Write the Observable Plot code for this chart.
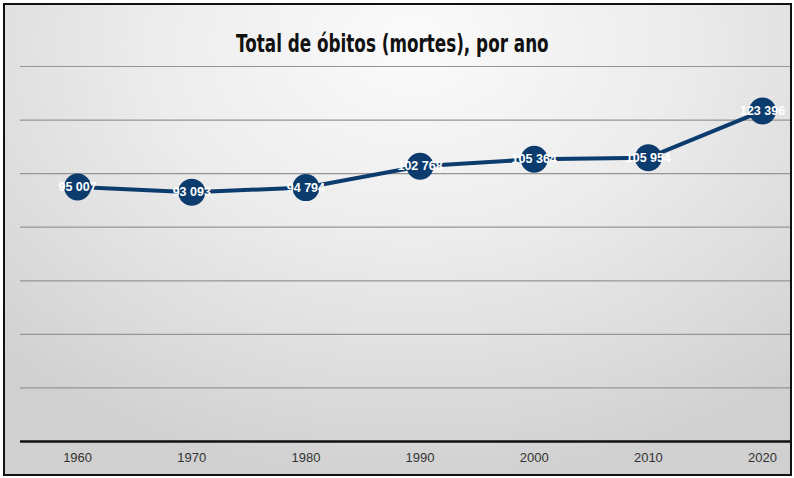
<!DOCTYPE html>
<html>
<head>
<meta charset="utf-8">
<script src="https://cdn.jsdelivr.net/npm/d3@7"></script>
<script src="https://cdn.jsdelivr.net/npm/@observablehq/plot@0.6"></script>
<style>
  html, body { margin: 0; padding: 0; background: #fff; }
  body { width: 794px; height: 478px; position: relative; overflow: hidden; }
  #frame {
    position: absolute; left: 3px; top: 3px; width: 789px; height: 473px;
    box-sizing: border-box; border: 2px solid #111;
    background: radial-gradient(ellipse 75% 95% at 52% 8%, #fbfbfb 0%, #ececec 45%, #d8d8d8 85%, #d0d0d0 100%);
  }
  #title {
    position: absolute; left: -5px; top: 32px; width: 794px; text-align: center;
  }
  #title span {
    display: inline-block; transform: scaleX(0.70); transform-origin: 50% 50%;
    font-family: "DejaVu Sans", sans-serif;
    font-weight: bold; font-size: 24px; line-height: 24px; color: #111;
    white-space: nowrap;
  }
  #chart { position: absolute; left: 0; top: 62px; }
</style>
</head>
<body>
<div id="frame"></div>
<div id="title"><span>Total de óbitos (mortes), por ano</span></div>
<div id="chart"></div>
<script>
const years = [1960, 1970, 1980, 1990, 2000, 2010, 2020];
const deaths = [95007, 93093, 94794, 102768, 105364, 105954, 123396];
const gridValues = [20000, 40000, 60000, 80000, 100000, 120000, 140000];
const tickYears = [1960, 1970, 1980, 1990, 2000, 2010, 2020];

const data = years.map((y, i) => ({year: y, value: deaths[i]}));
const fmt = v => d3.format(",")(v).replace(/,/g, " ");
const navy = "#0c3c6e";

const plot = Plot.plot({
  width: 794,
  height: 416,
  marginLeft: 20,
  marginRight: 4,
  marginTop: 4,
  marginBottom: 37,
  style: {background: "transparent", fontFamily: "'Liberation Sans', Arial, sans-serif"},
  x: {domain: [1955, 2022.45], label: null},
  y: {domain: [0, 140000], axis: null},
  marks: [
    Plot.ruleY(gridValues, {stroke: "#959595", strokeWidth: 1.2}),
    Plot.ruleY([0], {stroke: "#111", strokeWidth: 2.5}),
    Plot.axisX({ticks: tickYears, tickFormat: d => String(d), tickSize: 0, tickPadding: 11, fontSize: 13, fill: "#333", label: null}),
    Plot.line(data, {x: "year", y: "value", stroke: navy, strokeWidth: 4}),
    Plot.dot(data, {x: "year", y: "value", r: 13.5, fill: navy, stroke: "none"}),
    Plot.text(data, {x: "year", y: "value", text: d => fmt(d.value), fill: "#fff", fontSize: 12.5, fontWeight: "bold", fontFamily: "'Liberation Sans', Arial, sans-serif"})
  ]
});
document.getElementById("chart").appendChild(plot);
</script>
</body>
</html>
